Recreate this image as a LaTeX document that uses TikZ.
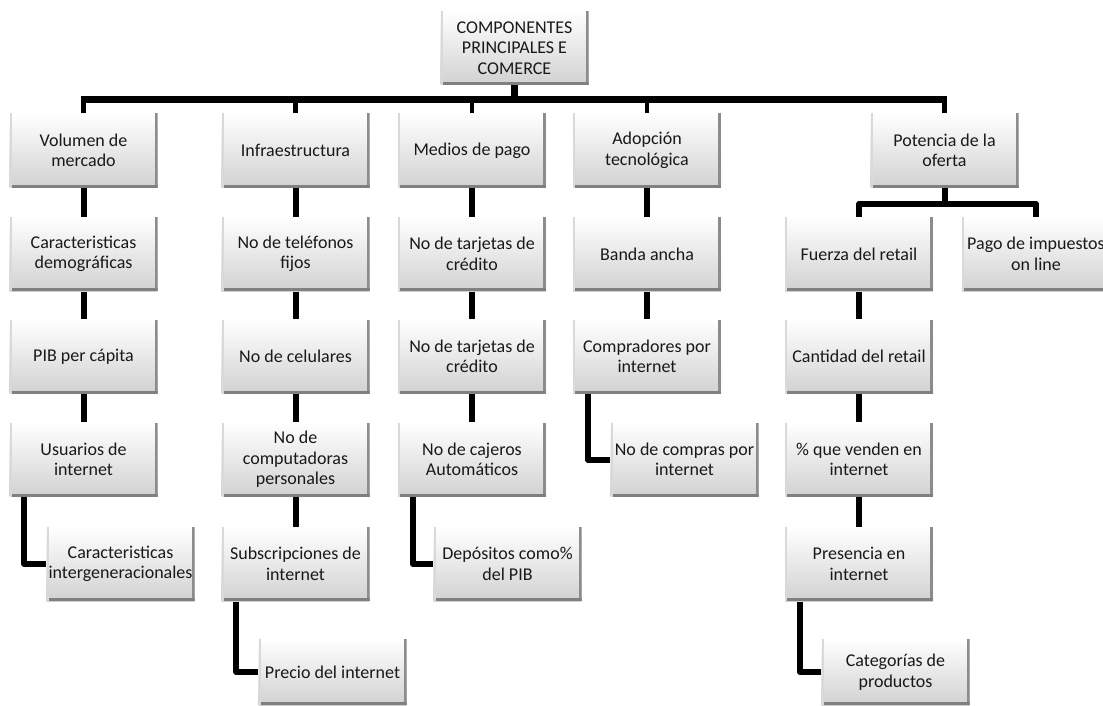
\documentclass[tikz,border=0pt]{standalone}
\usepackage{fontspec}
\setmainfont{Carlito}
\pgfdeclarelayer{bg}
\pgfsetlayers{bg,main}
\tikzset{
  box/.style={minimum width=148pt, minimum height=74pt, inner sep=1pt, align=center,
    font=\fontsize{18}{20.5}\selectfont, text=black!90,
    top color=white, bottom color=black!18,
    path picture={
      \fill[black!45] ([xshift=-3pt]path picture bounding box.north east) rectangle (path picture bounding box.south east);
      \fill[black!50] (path picture bounding box.south west) rectangle ([yshift=3pt]path picture bounding box.south east);
      \fill[black!15] (path picture bounding box.south west) rectangle ([xshift=2pt]path picture bounding box.north west);
    }},
  lowbox/.style={box, minimum height=66pt},
  conn/.style={line width=6pt, line join=round, black},
  mainbar/.style={line width=7pt, black},
  stemlink/.style={line width=4.5pt, black},
}
\begin{document}
\begin{tikzpicture}[x=1pt, y=-1pt]
\useasboundingbox (0,0) rectangle (1103,706);
\clip (0,0) rectangle (1103,706);

% root
\node[box] (root) at (514.5,48) {COMPONENTES\\PRINCIPALES E\\COMERCE};

% level 1
\node[box] (vol) at (83.5,150.5) {Volumen de\\mercado};
\node[box] (inf) at (295.5,150.5) {Infraestructura};
\node[box] (med) at (472,150.5) {Medios de pago};
\node[box] (ado) at (647,150.5) {Adopción\\tecnológica};
\node[box] (pot) at (944.5,150.5) {Potencia de la\\oferta};

% level 2
\node[box] (dem) at (83.5,254) {Caracteristicas\\demográficas};
\node[box] (tel) at (295.5,254) {No de teléfonos\\fijos};
\node[box] (tarA) at (472,254) {No de tarjetas de\\crédito};
\node[box] (ban) at (647,254) {Banda ancha};
\node[box] (fue) at (859,254) {Fuerza del retail};
\node[box] (pag) at (1036,254) {Pago de impuestos\\on line};

% level 3
\node[box] (pib) at (83.5,356.5) {PIB per cápita};
\node[box] (cel) at (295.5,356.5) {No de celulares};
\node[box] (tarB) at (472,356.5) {No de tarjetas de\\crédito};
\node[box] (com) at (647,356.5) {Compradores por\\internet};
\node[box] (can) at (859,356.5) {Cantidad del retail};

% level 4
\node[box] (usu) at (83.5,459.5) {Usuarios de\\internet};
\node[box] (pc) at (295.5,459.5) {No de\\computadoras\\personales};
\node[box] (caj) at (472,459.5) {No de cajeros\\Automáticos};
\node[box] (ncp) at (684.5,459.5) {No de compras por\\internet};
\node[box] (ven) at (859,459.5) {\% que venden en\\internet};

% level 5
\node[box] (gen) at (120.5,564) {Caracteristicas\\intergeneracionales};
\node[box] (sub) at (295.5,564) {Subscripciones de\\internet};
\node[box] (dep) at (507.5,564) {Depósitos como\%\\del PIB};
\node[box] (pre) at (859,564) {Presencia en\\internet};

% level 6
\node[lowbox] (pri) at (332.5,672) {Precio del internet};
\node[lowbox] (cat) at (895.5,672) {Categorías de\\productos};

\coordinate (barY) at (0,100);
\coordinate (subY) at (0,204);

\begin{pgfonlayer}{bg}
  \fill[white] (0,0) rectangle (1103,706);
  % top bar
  \draw[mainbar] (root.south) -- (root.south |- barY);
  \draw[mainbar] ([xshift=-2.25pt]vol.north |- barY) -- ([xshift=2.25pt]pot.north |- barY);
  \foreach \n in {vol,inf,med,ado,pot}
    \draw[stemlink] (\n.north) -- (\n.north |- barY);
  % sub bar under Potencia
  \draw[conn] (pot.south) -- (pot.south |- subY);
  \draw[conn] (fue.north) -- (fue.north |- subY) -- (pag.north |- subY) -- (pag.north);
  % vertical chains
  \draw[conn] (vol.south) -- (dem.north);
  \draw[conn] (dem.south) -- (pib.north);
  \draw[conn] (pib.south) -- (usu.north);
  \draw[conn] (inf.south) -- (tel.north);
  \draw[conn] (tel.south) -- (cel.north);
  \draw[conn] (cel.south) -- (pc.north);
  \draw[conn] (pc.south) -- (sub.north);
  \draw[conn] (med.south) -- (tarA.north);
  \draw[conn] (tarA.south) -- (tarB.north);
  \draw[conn] (tarB.south) -- (caj.north);
  \draw[conn] (ado.south) -- (ban.north);
  \draw[conn] (ban.south) -- (com.north);
  \draw[conn] (fue.south) -- (can.north);
  \draw[conn] (can.south) -- (ven.north);
  \draw[conn] (ven.south) -- (pre.north);
  % elbow connectors
  \draw[conn] ([xshift=15pt]usu.south west) |- (gen.west);
  \draw[conn] ([xshift=15pt]sub.south west) |- (pri.west);
  \draw[conn] ([xshift=15pt]caj.south west) |- (dep.west);
  \draw[conn] ([xshift=15pt]com.south west) |- (ncp.west);
  \draw[conn] ([xshift=15pt]pre.south west) |- (cat.west);
\end{pgfonlayer}
\end{tikzpicture}
\end{document}
